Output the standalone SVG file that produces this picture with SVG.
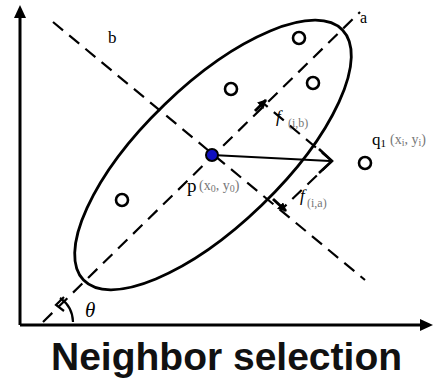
<svg xmlns="http://www.w3.org/2000/svg" width="434" height="381" viewBox="0 0 434 381">
<style>
.ax{stroke:#000;stroke-width:3;fill:none}
.dash{stroke:#000;stroke-width:2.2;fill:none;stroke-dasharray:13 8}
.pt{fill:#fff;stroke:#000;stroke-width:2.6}
.lbl{font-family:"Liberation Serif",serif;fill:#000}
.sub{font-family:"Liberation Serif",serif;fill:#777}
</style>
<defs>
<marker id="ah" viewBox="0 0 10 10" refX="9" refY="5" markerWidth="9" markerHeight="9" markerUnits="userSpaceOnUse" orient="auto">
<path d="M0,0 L10,5 L0,10 Z" fill="#000"/>
</marker>
</defs>
<rect width="434" height="381" fill="#fff"/>
<g id="connectors">
<path class="ax" d="M20,325 V12"/>
<path d="M20,5 L14,18 L26,18 Z" fill="#000"/>
<path class="ax" d="M20,325 H425"/>
<path d="M433,325 L420,319 L420,331 Z" fill="#000"/>
<path class="dash" d="M43,322 L360,12"/>
<path class="dash" d="M53,22 L365,280"/>
<path class="dash" d="M332,161 L263,103"/>
<path class="dash" d="M332,161 L283,208"/>
<path d="M255,111 L266,100" stroke="#000" stroke-width="3" marker-end="url(#ah)"/>
<path d="M273,199 L286,211" stroke="#000" stroke-width="3" marker-end="url(#ah)"/>
<path d="M212,155 L330,161" stroke="#000" stroke-width="2.2"/>
<path d="M319,149 L332,161 L319,173" stroke="#000" stroke-width="2.6" fill="none"/>
<path d="M60,298 A30,30 0 0 1 73,322" stroke="#000" stroke-width="2.2" fill="none"/>
<path d="M64,297 L56,305 L64,311" stroke="#000" stroke-width="2.2" fill="none"/>
</g>
<g id="ellipse">
<ellipse cx="213" cy="155" rx="180" ry="70" transform="rotate(-44 213 155)" stroke="#000" stroke-width="2.8" fill="none"/>
</g>
<g id="points">
<circle class="pt" cx="299" cy="38" r="6"/>
<circle class="pt" cx="313" cy="83" r="6"/>
<circle class="pt" cx="231" cy="89" r="6"/>
<circle class="pt" cx="365" cy="163" r="6"/>
<circle class="pt" cx="122" cy="200" r="6"/>
</g>
<g id="p">
<circle cx="212" cy="155" r="6" fill="#1010c0" stroke="#000" stroke-width="2"/>
<text class="lbl" x="187" y="192" font-size="19">p</text>
<text class="sub" x="199" y="190" font-size="14">(x<tspan font-size="10" dy="2">0</tspan><tspan dy="-2">, y</tspan><tspan font-size="10" dy="2">0</tspan><tspan dy="-2">)</tspan></text>
</g>
<g id="q">
<text class="lbl" x="372" y="145" font-size="17">q<tspan font-size="11" dy="2">1</tspan></text>
<text class="sub" x="390" y="144" font-size="14">(x<tspan font-size="10" dy="2">i</tspan><tspan dy="-2">, y</tspan><tspan font-size="10" dy="2">i</tspan><tspan dy="-2">)</tspan></text>
</g>
<g id="labels">
<text class="lbl" x="360" y="23" font-size="16">a</text>
<text class="lbl" x="108" y="43" font-size="17">b</text>
<text class="lbl" x="276" y="122" font-size="17" font-style="italic">f</text>
<text class="sub" x="288" y="127" font-size="12">(i,b)</text>
<text class="lbl" x="300" y="201" font-size="17" font-style="italic">f</text>
<text class="sub" x="307" y="207" font-size="12">(i,a)</text>
<text class="lbl" x="85" y="317" font-size="21" font-style="italic">θ</text>
</g>
<text x="226.5" y="370" font-family="Liberation Sans,Arial,sans-serif" font-size="39" font-weight="bold" text-anchor="middle" fill="#111">Neighbor selection</text>
</svg>
